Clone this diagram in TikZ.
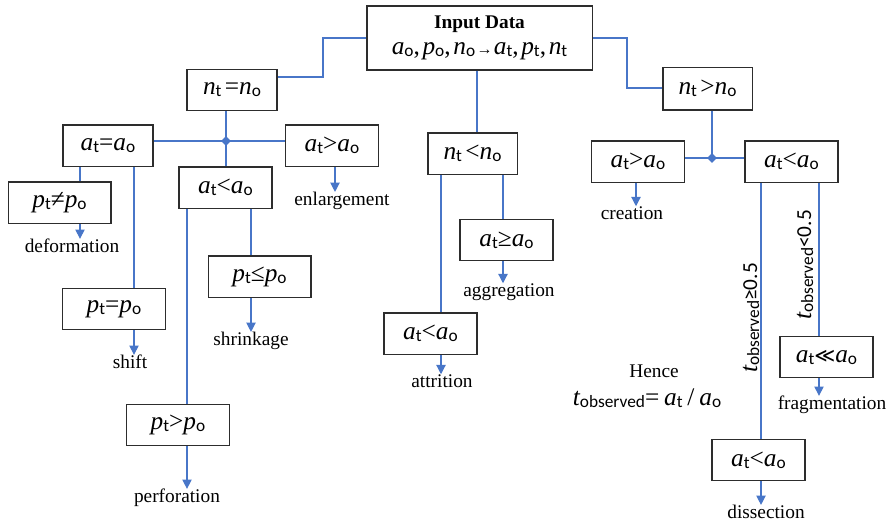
\documentclass[tikz,border=0pt]{standalone}
\usepackage{fontspec}
\setmainfont{Liberation Serif}
\newfontfamily\sbf{Carlito}
\newfontfamily\djv{DejaVu Sans}
\usetikzlibrary{arrows.meta,shapes.geometric}
\definecolor{lineblue}{RGB}{72,118,200}
\definecolor{boxgray}{RGB}{45,45,45}
\newcommand\mv[1]{{\rmfamily\fontsize{19}{19}\selectfont\itshape #1}}
\newcommand\sbs[1]{\raisebox{-1.5pt}{\sbf\fontsize{13}{13}\selectfont #1}}
\newcommand\qq[2]{\mv{#1}\sbs{#2}}
\newcommand\rl[1]{{\rmfamily\fontsize{19}{19}\selectfont #1}}
\tikzset{
  box/.style={draw=boxgray, line width=1pt, inner sep=0pt, minimum height=31pt, minimum width=69.75pt, fill=white, font=\rmfamily},
  wbox/.style={box, minimum width=77pt},
  conn/.style={draw=lineblue, line width=0.9pt},
  arr/.style={conn, -{Triangle[width=7pt,length=7pt]}},
  lbl/.style={inner sep=0pt, font=\rmfamily\fontsize{14.5}{17}\selectfont},
  jn/.style={diamond, fill=lineblue, inner sep=0pt, minimum size=7.5pt},
}
\begin{document}
\begin{tikzpicture}[x=0.75pt,y=-0.75pt]
\useasboundingbox (0,0) rectangle (889,522);
% boxes
\node[box, minimum width=169pt, minimum height=48pt, align=center, font=\rmfamily\fontsize{17}{20}\selectfont] (input) at (479.5,38)
  {{\fontsize{14.5}{17}\selectfont\bfseries Input Data}\\[-1pt]
   \qq{a}{o}\rl{,}\hspace{2pt}\qq{p}{o}\rl{,}\hspace{2pt}\qq{n}{o}\hspace{1pt}{\fontsize{12}{12}\selectfont →}\hspace{1pt}\qq{a}{t}\rl{,}\hspace{2pt}\qq{p}{t}\rl{,}\hspace{2pt}\qq{n}{t}};
\node[box, minimum width=67.5pt] (neq) at (232,90) {\qq{n}{t} \rl{=}\mv{n}\sbs{o}};
\node[box, minimum width=67pt] (ntlt) at (472.5,153.5) {\qq{n}{t} \rl{<}\mv{n}\sbs{o}};
\node[box, minimum width=67pt, minimum height=32pt] (ntgt) at (707.5,88.5) {\qq{n}{t} \rl{>}\mv{n}\sbs{o}};
\node[box, minimum width=67.5pt] (aeq) at (108,145.5) {\qq{a}{t}\rl{=}\qq{a}{o}};
\node[box] (agtL) at (332,145.5) {\qq{a}{t}\rl{>}\qq{a}{o}};
\node[box] (altL) at (225.5,187.5) {\qq{a}{t}\rl{<}\qq{a}{o}};
\node[wbox] (pne) at (59.5,202.5) {\qq{p}{t}\rl{≠}\qq{p}{o}};
\node[wbox] (peq) at (114,309) {\qq{p}{t}\rl{=}\qq{p}{o}};
\node[wbox] (ple) at (259.5,276.5) {\qq{p}{t}\rl{≤}\qq{p}{o}};
\node[wbox] (pgt) at (178,425) {\qq{p}{t}\rl{>}\qq{p}{o}};
\node[box] (ageq) at (506.5,240) {\qq{a}{t}\rl{≥}\qq{a}{o}};
\node[box] (altM) at (430.5,333.5) {\qq{a}{t}\rl{<}\qq{a}{o}};
\node[box] (agtR) at (638,161.5) {\qq{a}{t}\rl{>}\qq{a}{o}};
\node[box] (altR) at (791.5,161.5) {\qq{a}{t}\rl{<}\qq{a}{o}};
\node[box] (all) at (826.5,357) {\qq{a}{t}{\djv\fontsize{15}{15}\selectfont ≪}\qq{a}{o}};
\node[box] (altD) at (758.5,460) {\qq{a}{t}\rl{<}\qq{a}{o}};
% labels
\node[lbl] (ldef) at (72,246) {deformation};
\node[lbl] (lshift) at (130,362) {shift};
\node[lbl] (lshr) at (251,341) {shrinkage};
\node[lbl] (lperf) at (177,498) {perforation};
\node[lbl] (lenl) at (342,201) {enlargement};
\node[lbl] (lagg) at (509,292) {aggregation};
\node[lbl] (latt) at (442,381) {attrition};
\node[lbl] (lcre) at (632,213) {creation};
\node[lbl] (lfrag) at (832,405) {fragmentation};
\node[lbl] (ldis) at (766,512) {dissection};
\node[lbl] (hence) at (654,371) {Hence};
\node[lbl] (form) at (647,398) {\mv{t}\sbs{observed}\rl{=} \qq{a}{t} \rl{/} \qq{a}{o}};
\node[lbl, rotate=90] (tge) at (751,318) {\mv{t}\sbs{observed}{\sbf\fontsize{16}{16}\selectfont ≥0.5}};
\node[lbl, rotate=90] (tlt) at (805,265) {\mv{t}\sbs{observed}{\sbf\fontsize{16}{16}\selectfont <0.5}};
% junctions and guide coordinates
\coordinate (c1) at (323,77);
\coordinate (c2) at (627,88);
\coordinate (J1) at (226,141);
\coordinate (J2) at (712,158);
\coordinate (x80) at (80,0);
\coordinate (x134) at (134,0);
\coordinate (x335) at (335,0);
\coordinate (x187) at (187,0);
\coordinate (x251) at (251,0);
\coordinate (x477) at (477,0);
\coordinate (x441) at (441,0);
\coordinate (x503) at (503,0);
\coordinate (x636) at (636,0);
\coordinate (x761) at (761,0);
\coordinate (x819) at (819,0);
\coordinate (y38) at (0,38);
% connectors
\draw[conn] (input.west |- y38) -| (c1) -- (c1 -| neq.east);
\draw[conn] (input.east |- y38) -| (c2) -- (c2 -| ntgt.west);
\draw[conn] (input.south -| x477) -- (ntlt.north -| x477);
\draw[conn] (neq.south -| J1) -- (altL.north -| J1);
\draw[conn] (aeq.east |- J1) -- (agtL.west |- J1);
\draw[conn] (aeq.south -| x80) -- (pne.north -| x80);
\draw[conn] (aeq.south -| x134) -- (peq.north -| x134);
\draw[arr] (pne.south -| x80) -- (ldef.north -| x80);
\draw[arr] (peq.south -| x134) -- (lshift.north -| x134);
\draw[arr] (agtL.south -| x335) -- (lenl.north -| x335);
\draw[conn] (altL.south -| x187) -- (pgt.north -| x187);
\draw[conn] (altL.south -| x251) -- (ple.north -| x251);
\draw[arr] (ple.south -| x251) -- (lshr.north -| x251);
\draw[arr] (pgt.south -| x187) -- (lperf.north -| x187);
\draw[conn] (ntlt.south -| x441) -- (altM.north -| x441);
\draw[conn] (ntlt.south -| x503) -- (ageq.north -| x503);
\draw[arr] (ageq.south -| x503) -- (lagg.north -| x503);
\draw[arr] (altM.south -| x441) -- (latt.north -| x441);
\draw[conn] (ntgt.south -| J2) -- (J2);
\draw[conn] (agtR.east |- J2) -- (altR.west |- J2);
\draw[arr] (agtR.south -| x636) -- (lcre.north -| x636);
\draw[conn] (altR.south -| x761) -- (altD.north -| x761);
\draw[conn] (altR.south -| x819) -- (all.north -| x819);
\draw[arr] (all.south -| x819) -- (lfrag.north -| x819);
\draw[arr] (altD.south -| x761) -- (ldis.north -| x761);
\node[jn] (j1) at (J1) {};
\node[jn] (j2) at (J2) {};
\end{tikzpicture}
\end{document}
